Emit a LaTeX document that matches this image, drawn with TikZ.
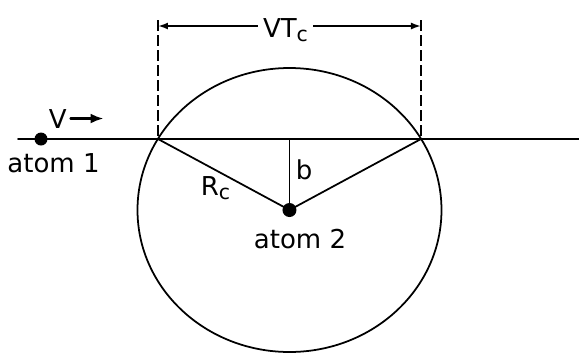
\documentclass[tikz,border=0pt]{standalone}
\usepackage{fontspec}
\setmainfont{DejaVu Sans}
\usetikzlibrary{arrows.meta}
\newcommand{\subc}{\raisebox{-0.35ex}{\fontsize{5.8}{6}\selectfont c}}

\begin{document}
\begin{tikzpicture}[>={Latex[length=1mm,width=0.7mm]},font=\fontsize{7.4}{9}\selectfont,line cap=round,line width=0.5pt,
  lbl/.style={inner sep=0pt},
  guide/.style={line width=0.45pt,line cap=butt,dash pattern=on 0.105cm off 0.045cm}]
\useasboundingbox (0,0) rectangle (5.79,3.54);
\coordinate (atom1) at (0.41,2.15);
\coordinate (atom2) at (2.895,1.44);
\coordinate (start) at (0.18,2.15);
\coordinate (end) at (5.79,2.15);
\coordinate (A) at (1.58,2.15);
\coordinate (B) at (4.21,2.15);
\coordinate (F) at (2.895,2.15);
\coordinate (At) at (1.58,3.34);
\coordinate (Bt) at (4.21,3.34);
\coordinate (L) at (1.58,3.28);
\coordinate (R) at (4.21,3.28);
\draw (atom2) ellipse [x radius=1.52,y radius=1.42];
\draw (start) -- (end);
\draw[guide] (At) -- (A);
\draw[guide] (Bt) -- (B);
\draw (A) -- (atom2) -- (B);
\draw (F) -- (atom2);
\fill (atom1) circle (0.065);
\fill (atom2) circle (0.07);
\draw[<->] (L) -- (R);
\node[fill=white,inner sep=0.05cm,anchor=base] (vt) at (2.855,3.17) {VT\subc};
\node[lbl,anchor=base west] (v) at (0.48,2.26) {V};
\draw[line width=0.7pt,-{Latex[length=1.3mm,width=1mm]}] ([xshift=0.03cm]v.east) -- ++(0.33,0);
\node[lbl,anchor=base] (lab1) at (0.535,1.82) {atom 1};
\node[lbl,anchor=base] (lab2) at (3.00,1.06) {atom 2};
\node[lbl,anchor=base west] (rc) at (2.00,1.59) {R\subc};
\node[lbl,anchor=base west] (b) at (2.95,1.75) {b};
\end{tikzpicture}
\end{document}
